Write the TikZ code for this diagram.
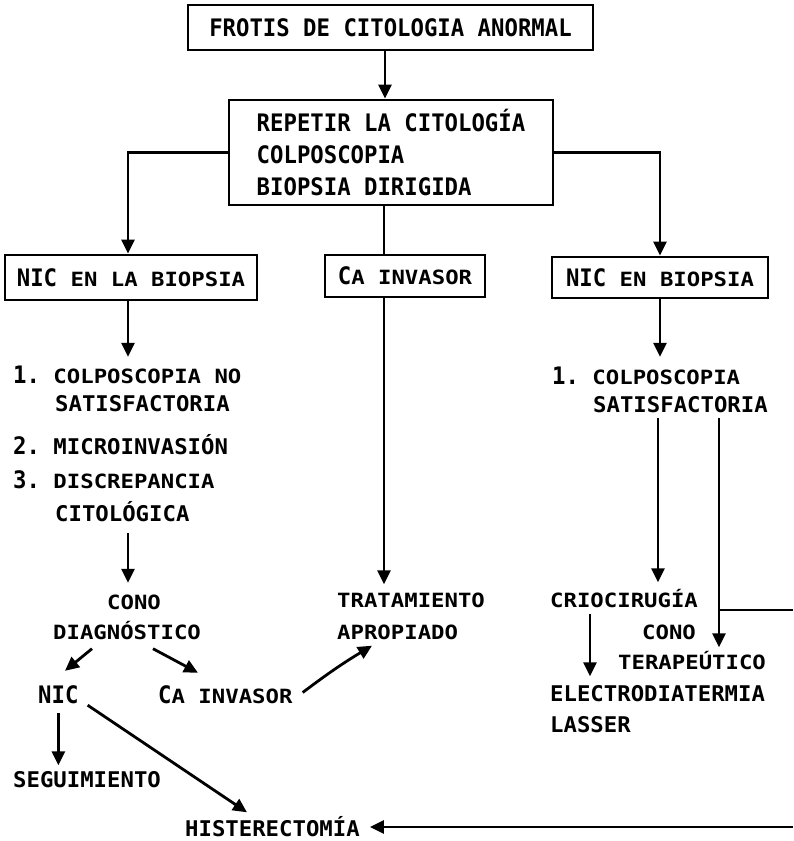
\documentclass[tikz,border=0pt]{standalone}
\usepackage{fontspec}
\usepackage{graphicx}
\setmainfont{DejaVu Sans Mono}
\usetikzlibrary{arrows.meta}
\newcommand\smc[1]{\scalebox{1}[0.88]{#1}}
\newcommand\mdc[1]{\scalebox{1}[0.97]{#1}}
\newcommand\lgc[1]{\scalebox{1}[1.08]{#1}}
\begin{document}
\begin{tikzpicture}[x=1pt,y=-1pt,
  font=\fontsize{22.3}{32}\selectfont\bfseries\frenchspacing,
  box/.style={draw, line width=2.8pt, inner sep=0pt, align=center},
  L/.style={inner sep=0pt, anchor=base west, text height=17pt, text depth=0pt},
  M/.style={inner sep=0pt, anchor=base west, text height=15pt, text depth=0pt},
  S/.style={inner sep=0pt, anchor=base west, text height=14pt, text depth=0pt},
  con/.style={line width=2.8pt},
  arr/.style={con, -{Triangle[length=14pt,width=13pt]}}]
\useasboundingbox (0,0) rectangle (793,841);
% column coordinates
\coordinate (xTop) at (385,0);
\coordinate (xL) at (128,0);
\coordinate (xM) at (384,0);
\coordinate (xR) at (658,0);
\coordinate (xR2) at (719,0);
\coordinate (xC) at (590,0);
\coordinate (eR1) at (793,610);
\coordinate (eR2) at (793,827);
% boxes
\node[box, minimum width=405pt, minimum height=45pt] (box1) at (390.5,27.5) {\lgc{FROTIS DE CITOLOGIA ANORMAL}};
\node[box, align=left, minimum width=324pt, minimum height=105pt] (box2) at (391,152.5) {\lgc{REPETIR LA CITOLOGÍA}\\\lgc{COLPOSCOPIA}\\\lgc{BIOPSIA DIRIGIDA}};
\node[box, minimum width=252pt, minimum height=45pt] (b3) at (131,277.5) {\lgc{NIC} \smc{EN LA BIOPSIA}};
\node[box, minimum width=160pt, minimum height=42pt] (b4) at (405,276) {\lgc{C}\smc{A INVASOR}};
\node[box, minimum width=216pt, minimum height=41pt] (b5) at (660,277.5) {\lgc{NIC} \smc{EN BIOPSIA}};
% left list
\node[L] (l1) at (13,383) {\lgc{1.} \smc{COLPOSCOPIA NO}};
\node[M] (l1b) at (55,411) {\mdc{SATISFACTORIA}};
\node[L] (l2) at (13,454) {\lgc{2.} \mdc{MICROINVASIÓN}};
\node[L] (l3) at (13,488) {\lgc{3.} \smc{DISCREPANCIA}};
\node[M] (l3b) at (55,521) {\mdc{CITOLÓGICA}};
% lower left
\node[S] (cono1) at (107,609) {\smc{CONO}};
\node[S] (diag) at (53,639) {\smc{DIAGNÓSTICO}};
\node[L] (nic2) at (38,703) {\lgc{NIC}};
\node[L] (ca2) at (158,703) {\lgc{C}\smc{A INVASOR}};
\node[M] (seg) at (13,787) {\mdc{SEGUIMIENTO}};
\node[M] (hist) at (185,836) {\mdc{HISTERECTOMÍA}};
% middle
\node[S] (trat) at (337,607) {\smc{TRATAMIENTO}};
\node[S] (apro) at (337,639) {\smc{APROPIADO}};
% right list
\node[L] (r1) at (552,384) {\lgc{1.} \smc{COLPOSCOPIA}};
\node[M] (r1b) at (593,412) {\mdc{SATISFACTORIA}};
\node[S] (crio) at (550,607) {\smc{CRIOCIRUGÍA}};
\node[S] (cono2) at (642,639) {\smc{CONO}};
\node[S] (tera) at (618,669) {\smc{TERAPEÚTICO}};
\node[M] (elec) at (550,701) {\mdc{ELECTRODIATERMIA}};
\node[M] (lass) at (550,732) {\mdc{LASSER}};
% connectors
\draw[arr] (box1.south -| xTop) -- (box2.north -| xTop);
\draw[arr] (box2.west) -| (b3.north -| xL);
\draw[arr] (box2.east) -| (b5.north);
\draw[con] (box2.south -| xM) -- (b4.north -| xM);
\draw[arr, shorten >=9pt] (b3.south -| xL) -- (l1.north -| xL);
\draw[arr, shorten <=12pt, shorten >=12pt] (l3b.south -| xL) -- (cono1.north -| xL);
\draw[arr, shorten >=8.5pt] (b4.south -| xM) -- (trat.north -| xM);
\draw[arr] ([xshift=39pt,yshift=-9.5pt]diag.south west) -- ([xshift=27pt,yshift=15pt]nic2.north west);
\draw[arr] ([xshift=100pt,yshift=-9.5pt]diag.south west) -- ([xshift=40pt,yshift=13pt]nic2.north west -| ca2.north west);
\draw[arr] ([xshift=10pt,yshift=2pt]ca2.east) to[bend left=3] ([xshift=35pt,yshift=-6.5pt]apro.south west);
\draw[arr, shorten <=10pt, shorten >=6.5pt] (nic2.south) -- (nic2.south |- seg.north);
\draw[arr] ([xshift=9pt,yshift=-2pt]nic2.south east) -- ([xshift=62pt,yshift=8.5pt]hist.north west);
\draw[arr, shorten >=10pt] (eR2) -- (eR2 -| hist.east);
\draw[arr, shorten >=10pt] (b5.south) -- (r1.north -| b5.south);
\draw[arr, shorten <=6pt, shorten >=10.5pt] (r1b.south -| xR) -- (crio.north -| xR);
\draw[arr, shorten <=6pt, shorten >=7.5pt] (r1b.south -| xR2) -- (tera.north -| xR2);
\draw[con] (eR1 -| xR2) -- (eR1);
\draw[arr, shorten <=6.5pt, shorten >=9.5pt] (crio.south -| xC) -- (elec.north -| xC);
\end{tikzpicture}
\end{document}
